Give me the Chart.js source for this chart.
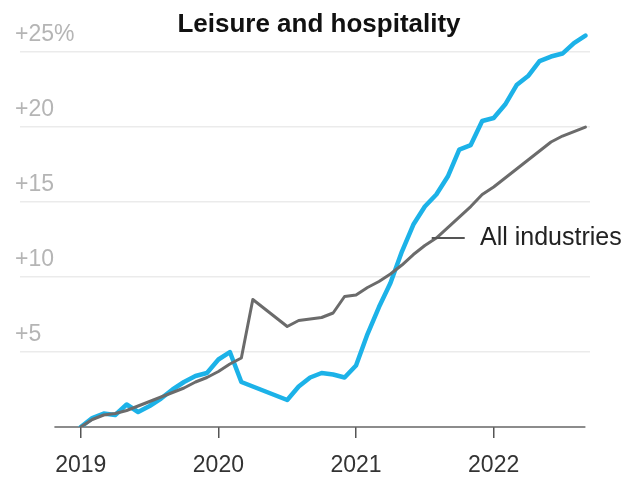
<!DOCTYPE html>
<html>
<head>
<meta charset="utf-8">
<script src="https://cdn.jsdelivr.net/npm/chart.js@4"></script>
<style>
    html, body { margin: 0; padding: 0; background: #fff; }
    #wrap { width: 626px; height: 481px; }
</style>
</head>
<body>
<div id="wrap"><canvas id="line-chart" width="626" height="481"></canvas></div>
<script>
/* data: % change since Jan 2019 */
const months = [
    "2019-01", "2019-02", "2019-03", "2019-04", "2019-05", "2019-06", "2019-07", "2019-08", "2019-09", "2019-10", "2019-11", "2019-12",
    "2020-01", "2020-02", "2020-03", "2020-04", "2020-05", "2020-06", "2020-07", "2020-08", "2020-09", "2020-10", "2020-11", "2020-12",
    "2021-01", "2021-02", "2021-03", "2021-04", "2021-05", "2021-06", "2021-07", "2021-08", "2021-09", "2021-10", "2021-11", "2021-12",
    "2022-01", "2022-02", "2022-03", "2022-04", "2022-05", "2022-06", "2022-07", "2022-08", "2022-09"
];

const leisureValues = [
    0, 0.6, 0.9, 0.8, 1.5, 1.0, 1.4, 1.9, 2.5, 3.0, 3.4, 3.6,
    4.5, 5.0, 3.0, 2.7, 2.4, 2.1, 1.8, 2.7, 3.3, 3.6, 3.5, 3.3,
    4.1, 6.2, 8.0, 9.6, 11.7, 13.5, 14.7, 15.5, 16.7, 18.5, 18.8, 20.4,
    20.6, 21.5, 22.8, 23.4, 24.4, 24.7, 24.9, 25.6, 26.1
];

const allIndustriesValues = [
    0, 0.5, 0.8, 0.9, 1.1, 1.4, 1.7, 2.0, 2.3, 2.6, 3.0, 3.3,
    3.7, 4.2, 4.6, 8.5, 7.9, 7.3, 6.7, 7.1, 7.2, 7.3, 7.6, 8.7,
    8.8, 9.3, 9.7, 10.2, 10.8, 11.5, 12.1, 12.6, 13.3, 14.0, 14.7, 15.5,
    16.0, 16.6, 17.2, 17.8, 18.4, 19.0, 19.4, 19.7, 20.0
];

const yearTicks = [2019, 2020, 2021, 2022];
const yTickValues = [5, 10, 15, 20, 25];
const yTickLabels = ["+5", "+10", "+15", "+20", "+25%"];

const FONT = "'Liberation Sans', Arial, sans-serif";

// month string -> months since Jan 2019
function monthIndex(str) {
    const parts = str.split("-");
    return (parseInt(parts[0]) - 2019) * 12 + (parseInt(parts[1]) - 1);
}

function toPoints(values) {
    return values.map((v, i) => ({ x: monthIndex(months[i]), y: v }));
}

/*
    extra drawing: title, baseline, "All industries" label
*/
const decorPlugin = {
    id: "decor",
    beforeDatasetsDraw(chart) {
        const ctx = chart.ctx;
        const xs = chart.scales.x;
        const ys = chart.scales.y;
        const y0 = ys.getPixelForValue(0);

        ctx.save();
        ctx.strokeStyle = "#666";
        ctx.lineWidth = 1.5;
        ctx.beginPath();
        ctx.moveTo(xs.getPixelForValue(-2.3), y0);
        ctx.lineTo(xs.getPixelForValue(44), y0);
        ctx.stroke();
        ctx.restore();
    },
    afterDraw(chart) {
        const ctx = chart.ctx;
        const xs = chart.scales.x;
        const ys = chart.scales.y;

        ctx.save();
        ctx.fillStyle = "#111";
        ctx.font = "bold 26px " + FONT;
        ctx.textAlign = "center";
        ctx.textBaseline = "alphabetic";
        ctx.fillText("Leisure and hospitality", 319, 32);

        // connector to the grey line
        const lx = xs.getPixelForValue(30.6);
        const ly = ys.getPixelForValue(12.6);
        ctx.strokeStyle = "#555";
        ctx.lineWidth = 2;
        ctx.beginPath();
        ctx.moveTo(lx, ly);
        ctx.lineTo(lx + 33, ly);
        ctx.stroke();

        ctx.fillStyle = "#222";
        ctx.font = "25px " + FONT;
        ctx.textAlign = "left";
        ctx.fillText("All industries", 480, 245);
        ctx.restore();
    }
};

const ctx = document.getElementById("line-chart").getContext("2d");

const lineChart = new Chart(ctx, {
    type: "line",
    data: {
        datasets: [
            {
                label: "All industries",
                data: toPoints(allIndustriesValues),
                borderColor: "#6b6b6b",
                borderWidth: 3,
                order: 0
            },
            {
                label: "Leisure and hospitality",
                data: toPoints(leisureValues),
                borderColor: "#1cb2e8",
                borderWidth: 4.5,
                order: 1
            }
        ]
    },
    options: {
        responsive: false,
        animation: false,
        layout: { padding: { left: 20, right: 36, top: 0, bottom: 0 } },
        elements: {
            point: { radius: 0 },
            line: { tension: 0, borderJoinStyle: "round", borderCapStyle: "round" }
        },
        plugins: {
            legend: { display: false },
            tooltip: { enabled: false }
        },
        scales: {
            x: {
                type: "linear",
                min: -5.3,
                max: 44.4,
                afterBuildTicks: (scale) => {
                    scale.ticks = yearTicks.map(y => ({ value: (y - 2019) * 12 }));
                },
                afterFit: (scale) => {
                    scale.height = 54;
                    scale.paddingLeft = 0;
                    scale.paddingRight = 0;
                },
                ticks: {
                    callback: (v) => String(2019 + v / 12),
                    color: "#333",
                    font: { family: FONT, size: 23 },
                    padding: 14,
                    maxRotation: 0
                },
                grid: {
                    drawOnChartArea: false,
                    drawTicks: true,
                    tickLength: 11,
                    color: "#555",
                    lineWidth: 1.5
                },
                border: { display: false }
            },
            y: {
                min: 0,
                max: 28.47,
                afterBuildTicks: (scale) => {
                    scale.ticks = yTickValues.map(v => ({ value: v }));
                },
                afterFit: (scale) => {
                    scale.width = 0;
                    scale.paddingTop = 0;
                    scale.paddingBottom = 0;
                },
                ticks: {
                    mirror: true,
                    padding: -5,
                    labelOffset: -17,
                    color: "#b5b5b5",
                    font: { family: FONT, size: 23 },
                    callback: (v) => yTickLabels[yTickValues.indexOf(v)]
                },
                grid: {
                    drawTicks: false,
                    color: "#ebebeb",
                    lineWidth: 1.5
                },
                border: { display: false }
            }
        }
    },
    plugins: [decorPlugin]
});
</script>
</body>
</html>
